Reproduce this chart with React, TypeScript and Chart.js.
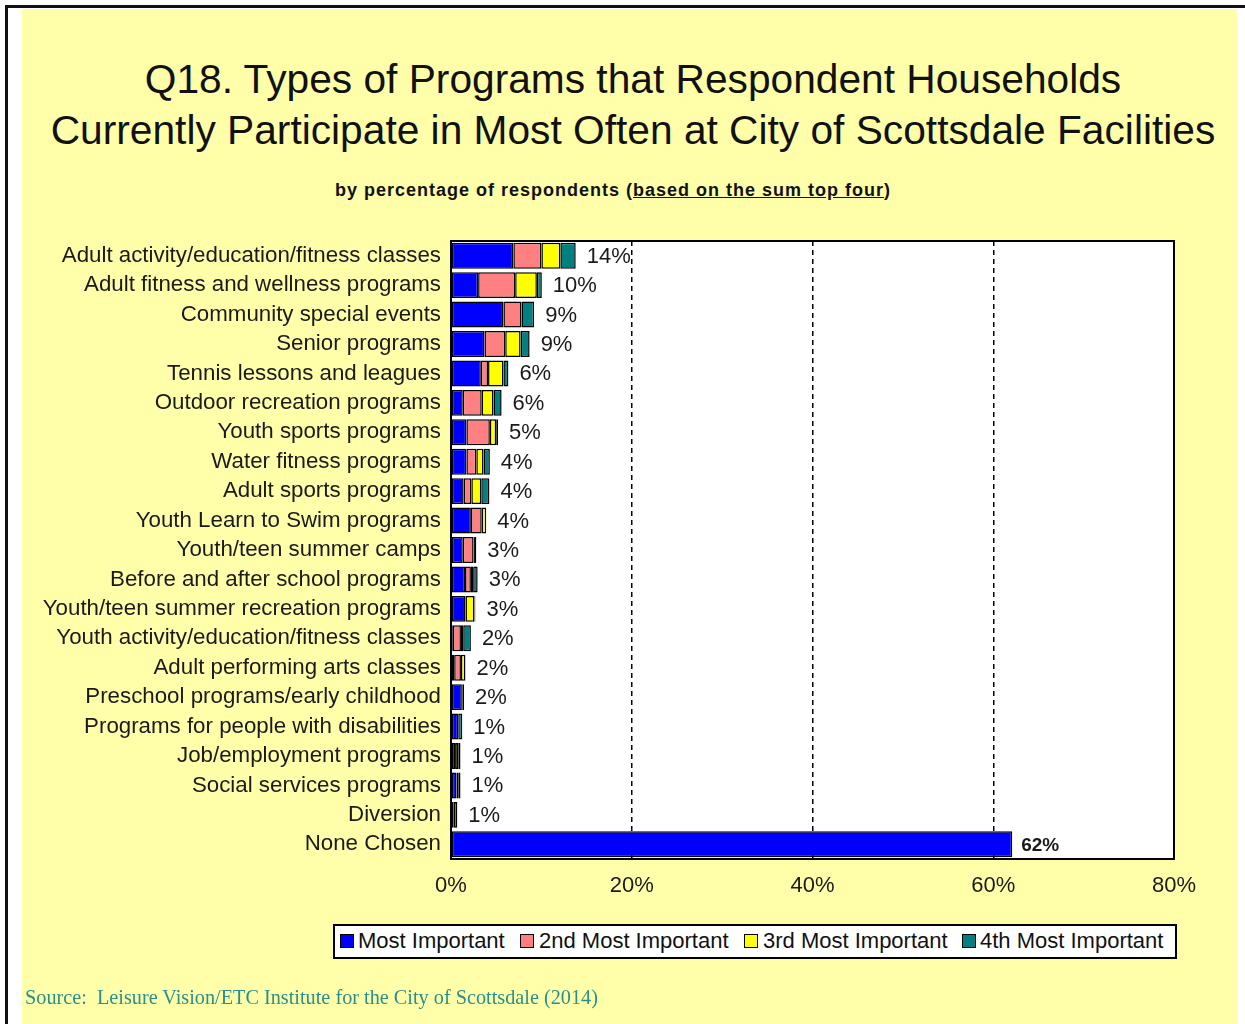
import React, { useEffect, useRef } from "react";
import { Chart, registerables } from "chart.js";

Chart.register(...registerables);

const categories = [
  "Adult activity/education/fitness classes",
  "Adult fitness and wellness programs",
  "Community special events",
  "Senior programs",
  "Tennis lessons and leagues",
  "Outdoor recreation programs",
  "Youth sports programs",
  "Water fitness programs",
  "Adult sports programs",
  "Youth Learn to Swim programs",
  "Youth/teen summer camps",
  "Before and after school programs",
  "Youth/teen summer recreation programs",
  "Youth activity/education/fitness classes",
  "Adult performing arts classes",
  "Preschool programs/early childhood",
  "Programs for people with disabilities",
  "Job/employment programs",
  "Social services programs",
  "Diversion",
  "None Chosen",
];

const mostImportant = [6.9, 3.0, 5.8, 3.7, 3.3, 1.3, 1.7, 1.7, 1.4, 2.2, 1.3, 1.55, 1.6, 0.2, 0.35, 1.2, 0.8, 0.45, 0.6, 0.3, 62.1];
const secondMostImportant = [3.1, 4.1, 2.0, 2.3, 0.8, 2.1, 2.6, 1.1, 0.85, 1.2, 1.2, 0.65, 0, 0.9, 0.75, 0, 0, 0, 0.2, 0, 0];
const thirdMostImportant = [2.1, 2.4, 0, 1.7, 1.7, 1.3, 0.7, 0.8, 1.1, 0.5, 0.15, 0.25, 1.0, 0.25, 0.5, 0.1, 0, 0.35, 0, 0, 0];
const fourthMostImportant = [1.7, 0.55, 1.4, 1.0, 0.55, 0.9, 0.2, 0.7, 0.9, 0, 0.15, 0.5, 0.1, 0.85, 0, 0.15, 0.45, 0.25, 0.25, 0.4, 0];
const totalLabels = ["14%", "10%", "9%", "9%", "6%", "6%", "5%", "4%", "4%", "4%", "3%", "3%", "3%", "2%", "2%", "2%", "1%", "1%", "1%", "1%", "62%"];

const seriesNames = ["Most Important", "2nd Most Important", "3rd Most Important", "4th Most Important"];
const seriesColors = ["#0000FF", "#FF8080", "#FFFF00", "#008080"];
const xTicks = [0, 20, 40, 60, 80];

const FONT = "'Liberation Sans', Arial, sans-serif";

export default function App() {
  const ref = useRef<HTMLCanvasElement | null>(null);

  useEffect(() => {
    if (!ref.current) return;
    const series = [mostImportant, secondMostImportant, thirdMostImportant, fourthMostImportant];

    const plotBg = {
      id: "plotBg",
      beforeDraw(chart: any) {
        const { ctx, chartArea } = chart;
        ctx.save();
        ctx.fillStyle = "#FFFFFF";
        ctx.fillRect(chartArea.left, chartArea.top, chartArea.right - chartArea.left, chartArea.bottom - chartArea.top);
        ctx.restore();
      },
      afterDatasetsDraw(chart: any) {
        const { ctx, chartArea } = chart;
        ctx.save();
        ctx.strokeStyle = "#000";
        ctx.lineWidth = 2;
        ctx.strokeRect(chartArea.left, chartArea.top, chartArea.right - chartArea.left, chartArea.bottom - chartArea.top);
        const xs = chart.scales.x;
        const ys = chart.scales.y;
        ctx.fillStyle = "#1a1a1a";
        ctx.textBaseline = "middle";
        ctx.textAlign = "left";
        categories.forEach((_, i) => {
          let sum = 0;
          series.forEach((s) => (sum += s[i]));
          const x = xs.getPixelForValue(sum);
          const y = ys.getPixelForValue(i);
          const last = i === categories.length - 1;
          ctx.font = last ? `bold 19px ${FONT}` : `22px ${FONT}`;
          ctx.fillText(totalLabels[i], x + (last ? 9 : 11), y + 1);
        });
        ctx.restore();
      },
    };

    const chart = new Chart(ref.current, {
      type: "bar",
      data: {
        labels: categories,
        datasets: series.map((s, k) => ({
          label: seriesNames[k],
          data: s.map((v) => (v === 0 ? null : v)),
          backgroundColor: seriesColors[k],
          borderColor: "#000",
          borderWidth: 1.5,
          borderSkipped: false,
          barPercentage: 0.88,
          categoryPercentage: 1,
        })),
      },
      options: {
        indexAxis: "y",
        animation: false,
        responsive: false,
        devicePixelRatio: 1,
        layout: { padding: { left: 20, right: 71, top: 241, bottom: 125 } },
        plugins: {
          legend: { display: false },
          title: { display: false },
          tooltip: { enabled: false },
        },
        scales: {
          x: {
            stacked: true,
            min: 0,
            max: 80,
            afterFit(scale: any) {
              scale.height = 40;
            },
            afterBuildTicks(scale: any) {
              scale.ticks = xTicks.map((v) => ({ value: v }));
            },
            ticks: {
              callback: (v: any) => `${v}%`,
              font: { family: FONT, size: 22 },
              color: "#1a1a1a",
              padding: 14,
              maxRotation: 0,
            },
            grid: {
              drawTicks: false,
              lineWidth: 1.5,
              color: (c: any) => (c.tick && (c.tick.value === 0 || c.tick.value === 80) ? "rgba(0,0,0,0)" : "#000"),
            },
            border: { display: false, dash: [5, 4] },
          },
          y: {
            stacked: true,
            afterFit(scale: any) {
              scale.width = 431;
            },
            ticks: {
              font: { family: FONT, size: 22.3 },
              color: "#1a1a1a",
              padding: 10,
              autoSkip: false,
            },
            grid: { display: false, drawTicks: false },
            border: { display: false },
          },
        },
      },
      plugins: [plotBg],
    });
    return () => chart.destroy();
  }, []);

  const legendItems = [
    { marker: 7, text: 25 },
    { marker: 187, text: 206 },
    { marker: 411, text: 430 },
    { marker: 629, text: 647 },
  ];

  return (
    <div style={{ position: "absolute", left: 0, top: 0, width: 1245, height: 1024, background: "#FFFFFF", overflow: "hidden" }}>
      <div style={{ position: "absolute", left: 5, top: 5, width: 1240, height: 3, background: "#111" }} />
      <div style={{ position: "absolute", left: 5, top: 5, width: 3, height: 1019, background: "#111" }} />
      <div style={{ position: "absolute", left: 22, top: 9, width: 1215, height: 1015, background: "#FFFFAA" }} />
      <div
        style={{
          position: "absolute",
          left: 33,
          top: 54,
          width: 1200,
          textAlign: "center",
          fontFamily: FONT,
          fontSize: 40.7,
          lineHeight: "51px",
          color: "#111",
        }}
      >
        <div>Q18. Types of Programs that Respondent Households</div>
        <div>Currently Participate in Most Often at City of Scottsdale Facilities</div>
      </div>
      <div
        style={{
          position: "absolute",
          left: 13,
          top: 179,
          width: 1200,
          textAlign: "center",
          fontFamily: FONT,
          fontSize: 18,
          fontWeight: "bold",
          letterSpacing: "1px",
          color: "#111",
          lineHeight: "22px",
        }}
      >
        by percentage of respondents <span style={{ textDecoration: "underline" }}>(based on the sum top four</span>)
      </div>
      <canvas ref={ref} width={1245} height={1024} style={{ position: "absolute", left: 0, top: 0 }} />
      <div
        style={{
          position: "absolute",
          left: 333,
          top: 924,
          width: 840,
          height: 31,
          border: "2px solid #000",
          background: "#FFFFFF",
          fontFamily: FONT,
          fontSize: 22,
          color: "#111",
        }}
      >
        {legendItems.map((it, k) => (
          <React.Fragment key={k}>
            <div
              style={{
                position: "absolute",
                left: it.marker - 2,
                top: 8,
                width: 12,
                height: 12,
                border: "1.5px solid #000",
                background: seriesColors[k],
              }}
            />
            <div style={{ position: "absolute", left: it.text - 2, top: 2, lineHeight: "26px", whiteSpace: "nowrap" }}>
              {seriesNames[k]}
            </div>
          </React.Fragment>
        ))}
      </div>
      <div
        style={{
          position: "absolute",
          left: 25,
          top: 984,
          fontFamily: "'Liberation Serif', 'Times New Roman', serif",
          fontSize: 22,
          color: "#2A8F8A",
          whiteSpace: "pre",
          transform: "scaleX(0.92)",
          transformOrigin: "left top",
          lineHeight: "26px",
        }}
      >
        {"Source:  Leisure Vision/ETC Institute for the City of Scottsdale (2014)"}
      </div>
    </div>
  );
}
